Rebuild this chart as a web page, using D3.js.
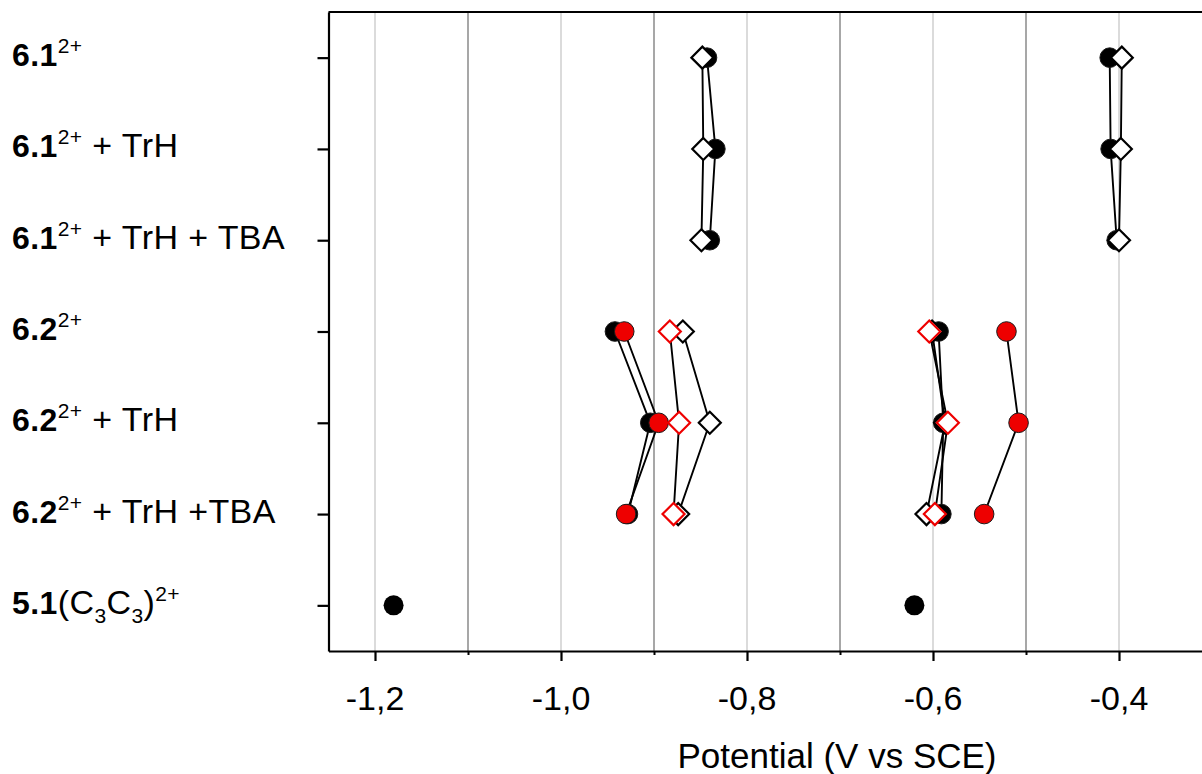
<!DOCTYPE html>
<html>
<head>
<meta charset="utf-8">
<script src="https://cdn.jsdelivr.net/npm/d3@7"></script>
<style>
    body { margin: 0; background: #fff; }
    svg { display: block; font-family: Arial, "Liberation Sans", sans-serif; }
</style>
</head>
<body>
<div id="chart"></div>
<script>
// Row labels (top to bottom), split into styled pieces
const rowLabels = [
    [{ t: "6.1", b: true }, { t: "2+", sup: true }],
    [{ t: "6.1", b: true }, { t: "2+", sup: true }, { t: " + TrH" }],
    [{ t: "6.1", b: true }, { t: "2+", sup: true }, { t: " + TrH + TBA" }],
    [{ t: "6.2", b: true }, { t: "2+", sup: true }],
    [{ t: "6.2", b: true }, { t: "2+", sup: true }, { t: " + TrH" }],
    [{ t: "6.2", b: true }, { t: "2+", sup: true }, { t: " + TrH +TBA" }],
    [{ t: "5.1", b: true }, { t: "(C" }, { t: "3", sub: true }, { t: "C" }, { t: "3", sub: true }, { t: ")" }, { t: "2+", sup: true }]
];

const rows61 = [1, 2, 3];
const rows62 = [4, 5, 6];
const row51 = 7;

// potentials (V vs SCE)
const e1Circle61 = [-0.843, -0.834, -0.840];
const e1Diamond61 = [-0.848, -0.847, -0.849];
const e2Circle61 = [-0.410, -0.409, -0.4025];
const e2Diamond61 = [-0.397, -0.398, -0.400];

const e1Circle62 = [-0.942, -0.904, -0.928];
const e1RedCircle62 = [-0.932, -0.895, -0.930];
const e1Diamond62 = [-0.869, -0.840, -0.874];
const e1RedDiamond62 = [-0.883, -0.873, -0.879];
const e2Circle62 = [-0.594, -0.589, -0.591];
const e2RedCircle62 = [-0.521, -0.508, -0.545];
const e2Diamond62 = [-0.601, -0.587, -0.607];
const e2RedDiamond62 = [-0.604, -0.584, -0.598];

const ref51 = [-1.18, -0.62];

const majorTicks = [-1.2, -1.0, -0.8, -0.6, -0.4];
const minorTicks = [-1.1, -0.9, -0.7, -0.5];

const width = 1202, height = 774;
const margin = { top: 12, left: 329, bottom: 123 };

const svg = d3.select("#chart").append("svg")
    .attr("width", width)
    .attr("height", height);

const x = d3.scaleLinear().domain([-1.25, -0.3]).range([328.5, 1212]);
const y = d3.scaleLinear().domain([0.5, 7.5]).range([margin.top, height - margin.bottom]);

// grid lines
svg.append("g").selectAll("line")
    .data(majorTicks)
    .enter().append("line")
    .attr("x1", d => x(d)).attr("x2", d => x(d))
    .attr("y1", y(0.5)).attr("y2", y(7.5))
    .attr("stroke", "#cfcfcf")
    .attr("stroke-width", 1.5);
svg.append("g").selectAll("line")
    .data(minorTicks)
    .enter().append("line")
    .attr("x1", d => x(d)).attr("x2", d => x(d))
    .attr("y1", y(0.5)).attr("y2", y(7.5))
    .attr("stroke", "#8a8a8a")
    .attr("stroke-width", 1.5);

// series: circles first, then diamonds, red on top of black
const series = [
    { rows: rows61, vals: e1Circle61, shape: "circle", color: "#000" },
    { rows: rows61, vals: e2Circle61, shape: "circle", color: "#000" },
    { rows: rows62, vals: e1Circle62, shape: "circle", color: "#000" },
    { rows: rows62, vals: e2Circle62, shape: "circle", color: "#000" },
    { rows: rows62, vals: e1RedCircle62, shape: "circle", color: "#ee0000" },
    { rows: rows62, vals: e2RedCircle62, shape: "circle", color: "#ee0000" },
    { rows: rows61, vals: e1Diamond61, shape: "diamond", color: "#000" },
    { rows: rows61, vals: e2Diamond61, shape: "diamond", color: "#000" },
    { rows: rows62, vals: e1Diamond62, shape: "diamond", color: "#000" },
    { rows: rows62, vals: e2Diamond62, shape: "diamond", color: "#000" },
    { rows: rows62, vals: e1RedDiamond62, shape: "diamond", color: "#ee0000" },
    { rows: rows62, vals: e2RedDiamond62, shape: "diamond", color: "#ee0000" }
];

const line = d3.line().x(d => x(d.v)).y(d => y(d.r));
const pts = s => s.vals.map((v, i) => ({ v: v, r: s.rows[i] }));

// connecting lines (always black)
svg.append("g").selectAll("path")
    .data(series)
    .enter().append("path")
    .attr("d", s => line(pts(s)))
    .attr("fill", "none")
    .attr("stroke", "#000")
    .attr("stroke-width", 1.9);

const diamondPath = "M0,-11L11,0L0,11L-11,0Z";

series.forEach(s => {
    const g = svg.append("g");
    if (s.shape === "circle") {
        g.selectAll("circle").data(pts(s)).enter().append("circle")
            .attr("cx", d => x(d.v)).attr("cy", d => y(d.r))
            .attr("r", 9.8)
            .attr("fill", s.color)
            .attr("stroke", "#1a1a1a")
            .attr("stroke-width", 1);
    } else {
        g.selectAll("path").data(pts(s)).enter().append("path")
            .attr("transform", d => `translate(${x(d.v)},${y(d.r)})`)
            .attr("d", diamondPath)
            .attr("fill", "#fff")
            .attr("stroke", s.color)
            .attr("stroke-width", 2.2)
            .attr("stroke-linejoin", "miter");
    }
});

// reference compound, points only
svg.append("g").selectAll("circle")
    .data(ref51)
    .enter().append("circle")
    .attr("cx", d => x(d)).attr("cy", y(row51))
    .attr("r", 10)
    .attr("fill", "#000");

// frame: top border, left and bottom axes
svg.append("line")
    .attr("x1", x(-1.25)).attr("x2", width)
    .attr("y1", y(0.5)).attr("y2", y(0.5))
    .attr("stroke", "#000").attr("stroke-width", 2);

const xAxis = d3.axisBottom(x).tickValues(majorTicks).tickSize(10).tickSizeOuter(0).tickFormat(() => "");
const gx = svg.append("g")
    .attr("transform", `translate(0,${y(7.5)})`)
    .call(xAxis);
gx.select(".domain").attr("stroke-width", 2.2);
gx.selectAll(".tick line").attr("stroke-width", 2.2);

const xMinor = d3.axisBottom(x).tickValues(minorTicks).tickSize(4).tickSizeOuter(0).tickFormat(() => "");
const gxm = svg.append("g")
    .attr("transform", `translate(0,${y(7.5)})`)
    .call(xMinor);
gxm.select(".domain").remove();
gxm.selectAll(".tick line").attr("stroke-width", 2);

// x tick labels with decimal comma
svg.append("g").selectAll("text")
    .data(majorTicks)
    .enter().append("text")
    .attr("x", d => x(d))
    .attr("y", 710)
    .attr("text-anchor", "middle")
    .attr("font-size", 34)
    .attr("fill", "#000")
    .text(d => d3.format(".1f")(d).replace("−", "-").replace(".", ","));

svg.append("text")
    .attr("x", 837)
    .attr("y", 768)
    .attr("text-anchor", "middle")
    .attr("font-size", 35)
    .attr("fill", "#000")
    .text("Potential (V vs SCE)");

const yAxis = d3.axisLeft(y).tickValues(d3.range(1, 8)).tickSize(11).tickSizeOuter(0).tickFormat(() => "");
const gy = svg.append("g")
    .attr("transform", `translate(${x(-1.25)},0)`)
    .call(yAxis);
gy.select(".domain").attr("stroke-width", 2.2);
gy.selectAll(".tick line").attr("stroke-width", 2.2);

// row labels
const labels = svg.append("g").selectAll("text")
    .data(rowLabels)
    .enter().append("text")
    .attr("x", 12)
    .attr("y", (d, i) => y(i + 1) + 8.5)
    .attr("font-size", 34)
    .attr("letter-spacing", 0.4)
    .attr("fill", "#000");

labels.each(function (parts) {
    const t = d3.select(this);
    let shift = 0;
    parts.forEach(p => {
        let target = 0;
        if (p.sup) target = -13;
        if (p.sub) target = 9;
        const ts = t.append("tspan")
            .attr("dy", target - shift)
            .text(p.t);
        shift = target;
        if (p.b) ts.attr("font-weight", "bold").attr("font-size", 32);
        if (p.sup || p.sub) ts.attr("font-size", 21);
    });
});
</script>
</body>
</html>
